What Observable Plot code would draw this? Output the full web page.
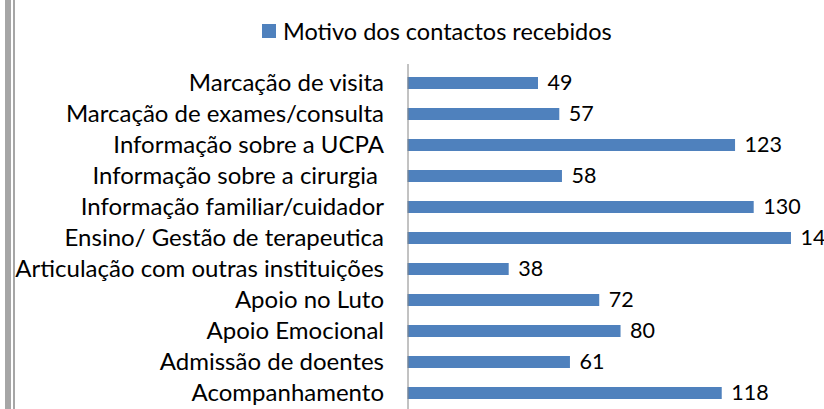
<!DOCTYPE html>
<html><head><meta charset="utf-8">
<script src="https://cdn.jsdelivr.net/npm/d3@7"></script>
<script src="https://cdn.jsdelivr.net/npm/@observablehq/plot@0.6"></script>
<style>
body{margin:0;background:#fff;font-family:Lato,sans-serif;}
#wrap{position:relative;width:824px;height:409px;overflow:hidden;background:#fff;}
.f1{position:absolute;left:5px;top:0;width:6px;height:409px;background:#a6a6a6;}
.f2{position:absolute;left:13px;top:0;width:1.5px;height:409px;background:#a6a6a6;}
#legend{position:absolute;left:262px;top:17px;height:28px;display:flex;align-items:center;font-size:23.5px;color:#000;white-space:nowrap;}
#legend .sw{display:inline-block;width:14px;height:14px;background:#4F81BD;margin-right:7px;}
#chart{position:absolute;left:0;top:54px;}
</style></head><body>
<div id="wrap">
  <div class="f1"></div><div class="f2"></div>
  <div id="legend"><span class="sw"></span><span id="lgtext"></span></div>
  <div id="chart"></div>
</div>
<script>
const seriesName = "Motivo dos contactos recebidos";
const categories = [
  "Marcação de visita",
  "Marcação de exames/consulta",
  "Informação sobre a UCPA",
  "Informação sobre a cirurgia ",
  "Informação familiar/cuidador",
  "Ensino/ Gestão de terapeutica",
  "Articulação com outras instituições",
  "Apoio no Luto",
  "Apoio Emocional",
  "Admissão de doentes",
  "Acompanhamento"
];
const values = [49, 57, 123, 58, 130, 144, 38, 72, 80, 61, 118];

const data = categories.map((c, i) => ({category: c, value: values[i]}));
document.getElementById("lgtext").textContent = seriesName;

const x0 = 407.5, pxPerUnit = 2.663;
const plot = Plot.plot({
  width: 824,
  height: 355,
  marginLeft: x0,
  marginRight: 17,
  marginTop: 10,
  marginBottom: 0,
  style: {fontFamily: "Lato, sans-serif", fontSize: "21px", color: "#000", background: "transparent", overflow: "visible"},
  x: {domain: [0, 150], range: [x0, x0 + 150 * pxPerUnit], axis: null},
  y: {domain: categories, range: [10, 10 + 11 * 31.65], paddingInner: 0.6, paddingOuter: 0.3, label: null},
  marks: [
    Plot.barX(data, {x: "value", y: "category", fill: "#4F81BD"}),
    Plot.ruleX([0], {stroke: "#868686", strokeWidth: 1}),
    Plot.axisY({tickSize: 0, tickPadding: 24, fontSize: 24, label: null}),
    Plot.text(data, {x: "value", y: "category", text: d => String(d.value), textAnchor: "start", dx: 9, fontSize: 21.5, fill: "#000"})
  ]
});
document.getElementById("chart").appendChild(plot);
</script>
</body></html>
